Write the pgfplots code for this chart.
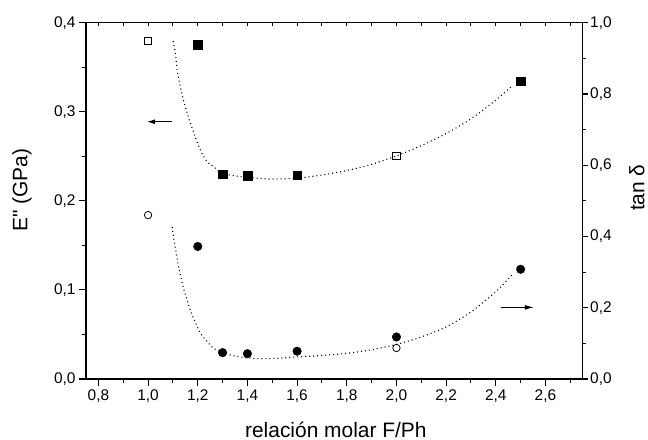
\documentclass[border=0pt]{standalone}
\usepackage{fontspec}
\setmainfont{Liberation Sans}[Ligatures=TeXOff]
\usepackage{pgfplots}
\pgfplotsset{compat=1.18}
\usetikzlibrary{arrows.meta}

\pgfplotsset{
  base/.style={
    scale only axis, width=496.7bp, height=356.3bp,
    xmin=0.75, xmax=2.75,
    axis line style={line width=1.1bp, black},
    tick style={line width=1.1bp, black},
    tick align=outside,
    major tick length=7bp, minor tick length=4bp,
    ticklabel style={font=\fontsize{15.5}{15.5}\selectfont},
    label style={font=\fontsize{21}{21}\selectfont},
    /pgf/number format/assume math mode=true,
    /pgf/number format/use comma,
    /pgf/number format/fixed,
    /pgf/number format/fixed zerofill,
    /pgf/number format/precision=1,
  },
  fitline/.style={black, line width=1.1bp, dash pattern=on 1bp off 3bp, no markers, smooth, tension=0.4},
}

\begin{document}
\begin{tikzpicture}
% ---------- left axis: E'' ----------
\begin{axis}[base,
  axis x line*=bottom, axis y line*=left,
  ymin=0, ymax=0.4,
  ytick={0,0.1,0.2,0.3,0.4},
  minor ytick={0.05,0.15,0.25,0.35},
  xtick={0.8,1,1.2,1.4,1.6,1.8,2,2.2,2.4,2.6},
  minor xtick={0.9,1.1,1.3,1.5,1.7,1.9,2.1,2.3,2.5,2.7},
  xlabel={relación molar F/Ph},
  ylabel={E" (GPa)},
  xlabel style={at={(axis description cs:0.503,-0.163)}, anchor=base},
  ylabel style={at={(axis description cs:-0.129,0.53)}, anchor=center},
]
% fitted curve (E'')
\addplot[fitline] coordinates {
 (1.101,0.3793) (1.110,0.3655) (1.119,0.3431) (1.133,0.3244) (1.146,0.3094)
 (1.164,0.2926) (1.180,0.2795) (1.197,0.2663) (1.217,0.2533) (1.238,0.2439)
 (1.264,0.2383) (1.298,0.2310) (1.35,0.2280) (1.40,0.2265) (1.45,0.2252)
 (1.50,0.2245) (1.60,0.2255) (1.70,0.2290) (1.80,0.2340) (1.90,0.2410)
 (2.00,0.2505) (2.10,0.2620) (2.20,0.2755) (2.30,0.2920) (2.40,0.3130)
 (2.465,0.3290)
};
% filled squares
\addplot[only marks, mark=square*, mark size=4.3bp, black] coordinates {
 (1.2,0.3756) (1.3,0.2300) (1.4,0.2280) (1.6,0.2290) (2.5,0.3345)
};
% open squares
\addplot[only marks, mark=square, mark size=3.6bp, black, line width=0.8bp] coordinates {
 (1.0,0.3800) (2.0,0.2506)
};
\draw[line width=1bp, -{Latex[length=8bp,width=5bp]}] (axis cs:1.097,0.2888) -- (axis cs:0.996,0.2888);
\coordinate (SW) at (rel axis cs:0,0);
\coordinate (NE) at (rel axis cs:1,1);
\end{axis}

% ---------- right axis: tan delta ----------
\begin{axis}[base,
  axis y line*=right, axis x line=none,
  ymin=0, ymax=1,
  ytick={0,0.2,0.4,0.6,0.8,1.0},
  minor ytick={0.1,0.3,0.5,0.7,0.9},
  major tick length=5bp, minor tick length=3bp,
  yticklabel style={xshift=-1bp},
  ylabel={tan δ},
  ylabel style={at={(axis description cs:1.1093,0.537)}, anchor=center},
]
\addplot[fitline] coordinates {
 (1.097,0.427) (1.103,0.395) (1.110,0.367) (1.119,0.329) (1.130,0.292)
 (1.143,0.254) (1.159,0.217) (1.177,0.180) (1.195,0.152) (1.211,0.128)
 (1.238,0.105) (1.264,0.086) (1.298,0.075) (1.338,0.066) (1.38,0.061)
 (1.44,0.057) (1.52,0.058) (1.60,0.062) (1.70,0.066) (1.80,0.072)
 (1.90,0.082) (2.00,0.097) (2.10,0.118) (2.20,0.146) (2.30,0.188)
 (2.40,0.245) (2.465,0.292)
};
% filled circles
\addplot[only marks, mark=*, mark size=4.3bp, black] coordinates {
 (1.2,0.372) (1.3,0.074) (1.4,0.071) (1.6,0.078) (2.0,0.118) (2.5,0.308)
};
% open circles
\addplot[only marks, mark=o, mark size=3.7bp, black, line width=0.8bp,
  mark options={fill=white}] coordinates {
 (1.0,0.460) (2.0,0.087)
};
\draw[line width=1bp, -{Latex[length=9bp,width=5bp]}] (axis cs:2.419,0.201) -- (axis cs:2.553,0.201);
\end{axis}

% ---------- top axis with small inward ticks ----------
\begin{axis}[base,
  axis x line*=top, axis y line=none,
  ymin=0, ymax=1,
  tick align=inside, major tick length=3bp,
  xtick={0.8,0.9,1.0,1.1,1.2,1.3,1.4,1.5,1.6,1.7,1.8,1.9,2.0,2.1,2.2,2.3,2.4,2.5,2.6,2.7},
  xticklabels={},
]
\addplot[draw=none] coordinates {(1,0.5)};
\end{axis}

\pgfresetboundingbox
\path[use as bounding box] ([shift={(-86bp,-61bp)}]SW) rectangle ([shift={(65.3bp,22.7bp)}]NE);
\end{tikzpicture}
\end{document}
